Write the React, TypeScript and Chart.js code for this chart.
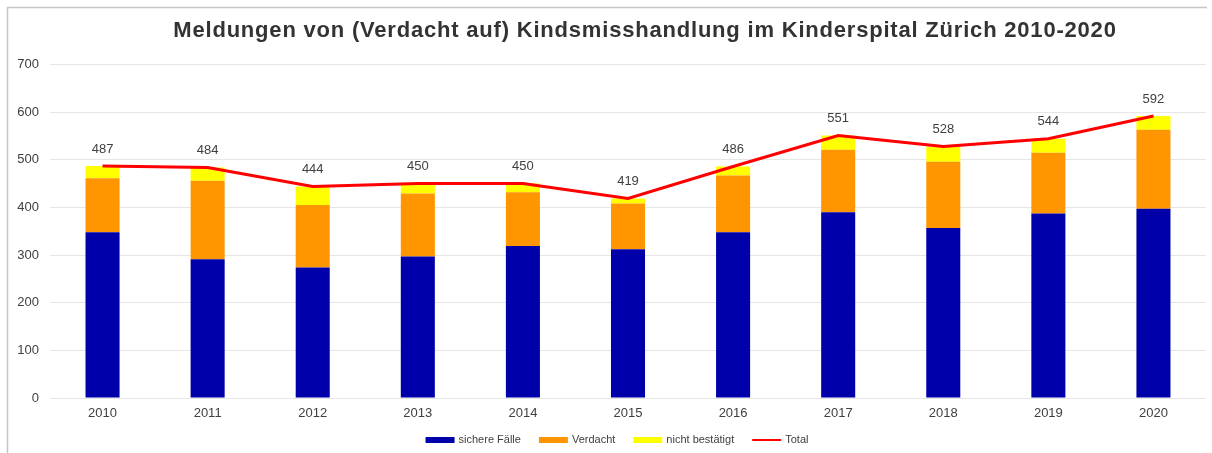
import React, { useEffect, useRef } from "react";
import { Chart, registerables } from "chart.js";

Chart.register(...registerables);

const years = ["2010", "2011", "2012", "2013", "2014", "2015", "2016", "2017", "2018", "2019", "2020"];
const sichereFaelle = [348, 291, 274, 297, 319, 312, 348, 390, 357, 387, 397];
const verdacht = [113, 165, 131, 132, 113, 96, 119, 131, 139, 128, 166];
const nichtBestaetigt = [26, 28, 39, 21, 18, 11, 19, 30, 32, 29, 29];
const total = [487, 484, 444, 450, 450, 419, 486, 551, 528, 544, 592];
const yMin = 0;
const yMax = 700;
const yStep = 100;

const titleText = "Meldungen von (Verdacht auf) Kindsmisshandlung im Kinderspital Zürich 2010-2020";
const FONT = "'Liberation Sans', Arial, sans-serif";
const TEXT_COLOR = "#404040";

const framePlugin = {
  id: "frame",
  beforeDraw(chart: any) {
    const ctx = chart.ctx;
    ctx.save();
    ctx.fillStyle = "#ffffff";
    ctx.fillRect(0, 0, chart.width, chart.height);
    ctx.strokeStyle = "#c6c6c6";
    ctx.lineWidth = 1.5;
    ctx.beginPath();
    ctx.moveTo(7, 7.5);
    ctx.lineTo(1207, 7.5);
    ctx.moveTo(7.5, 7);
    ctx.lineTo(7.5, chart.height);
    ctx.stroke();
    ctx.restore();
  },
};

const titlePlugin = {
  id: "customTitle",
  afterDraw(chart: any) {
    const ctx = chart.ctx;
    ctx.save();
    ctx.font = `bold 22px ${FONT}`;
    (ctx as any).letterSpacing = "0.8px";
    ctx.fillStyle = "#333333";
    ctx.textAlign = "left";
    ctx.textBaseline = "middle";
    const w = ctx.measureText(titleText).width;
    ctx.fillText(titleText, 645 - w / 2, 31);
    ctx.restore();
  },
};

const totalLabelsPlugin = {
  id: "totalLabels",
  afterDatasetsDraw(chart: any) {
    const ctx = chart.ctx;
    const idx = chart.data.datasets.findIndex((d: any) => d.type === "line");
    if (idx < 0) return;
    const meta = chart.getDatasetMeta(idx);
    const data = chart.data.datasets[idx].data;
    ctx.save();
    ctx.font = `13px ${FONT}`;
    ctx.fillStyle = TEXT_COLOR;
    ctx.textAlign = "center";
    ctx.textBaseline = "middle";
    meta.data.forEach((pt: any, i: number) => {
      ctx.fillText(String(data[i]), pt.x, pt.y - 17);
    });
    ctx.restore();
  },
};

const legendPlugin = {
  id: "customLegend",
  afterDraw(chart: any) {
    const ctx = chart.ctx;
    const ds = chart.data.datasets;
    const order = [1, 2, 3, 0];
    ctx.save();
    ctx.font = `11px ${FONT}`;
    const boxW = 29;
    const gapText = 4;
    const gapItem = 18;
    const widths = order.map((i) => boxW + gapText + ctx.measureText(ds[i].label).width);
    const totalW = widths.reduce((a, b) => a + b, 0) + gapItem * (order.length - 1);
    let x = 617 - totalW / 2;
    const y = 440;
    order.forEach((i, k) => {
      const d = ds[i];
      if (d.type === "line") {
        ctx.strokeStyle = d.borderColor;
        ctx.lineWidth = 2;
        ctx.beginPath();
        ctx.moveTo(x, y);
        ctx.lineTo(x + boxW, y);
        ctx.stroke();
      } else {
        ctx.fillStyle = d.backgroundColor;
        ctx.fillRect(x, y - 3, boxW, 6);
      }
      ctx.fillStyle = TEXT_COLOR;
      ctx.textAlign = "left";
      ctx.textBaseline = "middle";
      ctx.fillText(d.label, x + boxW + gapText, y);
      x += widths[k] + gapItem;
    });
    ctx.restore();
  },
};

export default function App() {
  const canvasRef = useRef<HTMLCanvasElement | null>(null);

  useEffect(() => {
    if (!canvasRef.current) return;
    const chart = new Chart(canvasRef.current, {
      type: "bar",
      data: {
        labels: years,
        datasets: [
          {
            type: "line",
            label: "Total",
            data: total,
            borderColor: "#ff0000",
            backgroundColor: "#ff0000",
            borderWidth: 3,
            pointRadius: 0,
            tension: 0,
            stack: "total",
            order: 0,
          } as any,
          {
            type: "bar",
            label: "sichere Fälle",
            data: sichereFaelle,
            backgroundColor: "#0000aa",
            stack: "main",
            order: 1,
          },
          {
            type: "bar",
            label: "Verdacht",
            data: verdacht,
            backgroundColor: "#ff9600",
            stack: "main",
            order: 1,
          },
          {
            type: "bar",
            label: "nicht bestätigt",
            data: nichtBestaetigt,
            backgroundColor: "#ffff00",
            stack: "main",
            order: 1,
          },
        ],
      },
      options: {
        responsive: false,
        animation: false,
        devicePixelRatio: 1,
        layout: { padding: { top: 64.5, right: 6, left: 0, bottom: 0 } },
        datasets: {
          bar: { categoryPercentage: 1, barPercentage: 0.324 },
        },
        plugins: {
          legend: { display: false },
          title: { display: false },
          tooltip: { enabled: false },
        },
        scales: {
          x: {
            stacked: true,
            grid: { display: false, drawTicks: false },
            border: { display: false },
            ticks: { color: TEXT_COLOR, font: { family: FONT, size: 13 }, padding: 8 },
            afterFit: (scale: any) => {
              scale.height = 55;
            },
          },
          y: {
            stacked: true,
            min: yMin,
            max: yMax,
            grid: { color: "#e6e6e6", lineWidth: 1, drawTicks: false },
            border: { display: false },
            ticks: {
              stepSize: yStep,
              color: TEXT_COLOR,
              font: { family: FONT, size: 13 },
              padding: 11,
            },
            afterFit: (scale: any) => {
              scale.width = 50;
            },
          },
        },
      },
      plugins: [framePlugin, titlePlugin, totalLabelsPlugin, legendPlugin],
    });
    return () => chart.destroy();
  }, []);

  return (
    <div style={{ position: "fixed", left: 0, top: 0, width: 1212, height: 453, background: "#fff" }}>
      <canvas ref={canvasRef} width={1212} height={453} style={{ display: "block", width: 1212, height: 453 }} />
    </div>
  );
}
